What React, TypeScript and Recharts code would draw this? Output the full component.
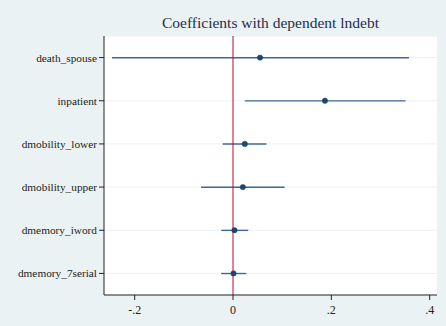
import React from 'react';
import { ComposedChart, Bar, Line, XAxis, YAxis, CartesianGrid, ReferenceLine } from 'recharts';

const variables = ['death_spouse', 'inpatient', 'dmobility_lower', 'dmobility_upper', 'dmemory_iword', 'dmemory_7serial'];
const coefs = [0.055, 0.187, 0.024, 0.02, 0.003, 0.001];
const lowerCI = [-0.246, 0.024, -0.021, -0.065, -0.024, -0.024];
const upperCI = [0.358, 0.351, 0.068, 0.105, 0.031, 0.027];
const xTicks = [-0.2, 0, 0.2, 0.4];

const data = variables.map((name, i) => ({
  name,
  coef: coefs[i],
  ci: [lowerCI[i], upperCI[i]],
}));

const SERIF = "'Liberation Serif', 'Times New Roman', serif";

const fmt = (v: number) => (v === 0 ? '0' : String(v).replace('0.', '.'));

export default function App() {
  return (
    <div style={{ position: 'fixed', left: 0, top: 0, width: 446, height: 326, background: '#eaf2f3', fontFamily: SERIF }}>
      <div style={{ position: 'absolute', left: 104, width: 333, top: 14, textAlign: 'center', fontSize: 15.5, color: '#1e2d4d' }}>
        Coefficients with dependent lndebt
      </div>
      <ComposedChart
        layout="vertical"
        width={446}
        height={326}
        data={data}
        margin={{ top: 36, right: 9, bottom: 0, left: 4 }}
      >
        <CartesianGrid horizontal vertical={false} fill="#ffffff" stroke="#eaf2f3" />
        <XAxis
          type="number"
          domain={[-0.2624, 0.4149]}
          ticks={xTicks}
          tickFormatter={fmt}
          allowDataOverflow
          height={31}
          tickSize={5}
          tickMargin={5}
          stroke="#222"
          tick={{ fill: '#222', fontSize: 12, fontFamily: SERIF }}
        />
        <YAxis
          type="category"
          dataKey="name"
          width={100}
          tickSize={5}
          stroke="#222"
          tick={{ fill: '#222', fontSize: 11.3, fontFamily: SERIF }}
        />
        <ReferenceLine x={0} stroke="#c10534" strokeWidth={1} />
        <Bar dataKey="ci" barSize={1.4} fill="#3f6894" isAnimationActive={false} />
        <Line
          dataKey="coef"
          stroke="none"
          dot={{ r: 2.7, fill: '#1a476f', stroke: '#1a476f', strokeWidth: 0.5 }}
          activeDot={false}
          isAnimationActive={false}
        />
      </ComposedChart>
    </div>
  );
}
